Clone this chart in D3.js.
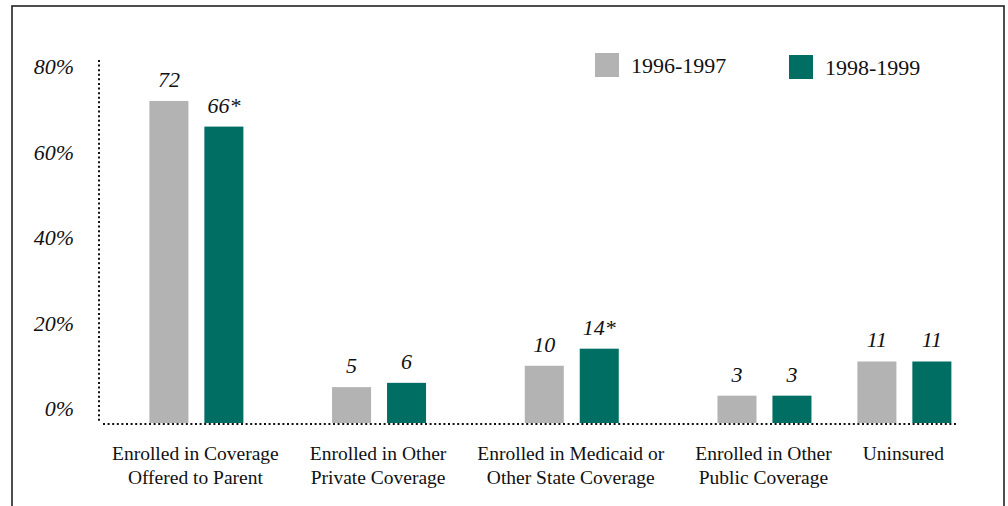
<!DOCTYPE html>
<html>
<head>
<meta charset="utf-8">
<script src="https://cdn.jsdelivr.net/npm/d3@7"></script>
<style>
  body { margin: 0; background: #fff; }
  svg { display: block; font-family: "Liberation Serif", "DejaVu Serif", serif; }
  svg text { font-family: "Liberation Serif", "DejaVu Serif", serif; }
</style>
</head>
<body>
<div id="chart"></div>
<script>
// data
const categories = [
  ["Enrolled in Coverage", "Offered to Parent"],
  ["Enrolled in Other", "Private Coverage"],
  ["Enrolled in Medicaid or", "Other State Coverage"],
  ["Enrolled in Other", "Public Coverage"],
  ["Uninsured"]
];
const series = ["1996-1997", "1998-1999"];
const values9697 = [72, 5, 10, 3, 11];
const values9899 = [66, 6, 14, 3, 11];
const labels9697 = ["72", "5", "10", "3", "11"];
const labels9899 = ["66*", "6", "14*", "3", "11"];
const yTicks = [0, 20, 40, 60, 80];
const colors = ["#b3b3b3", "#006e62"];

const width = 1008, height = 506;

const svg = d3.select("#chart")
  .append("svg")
  .attr("width", width)
  .attr("height", height);

// frame (bottom edge runs off the page)
svg.append("rect")
  .attr("x", 12).attr("y", 6)
  .attr("width", 992).attr("height", 530)
  .attr("fill", "none")
  .attr("stroke", "#222")
  .attr("stroke-width", 1.6);

// y scale: zero sits a little above the dotted floor
const y = d3.scaleLinear()
  .domain([-3.4, 80])
  .range([423, 66.8]);

// category labels first, so the groups can be laid out under them
const labelLeft = 112, labelRight = 944;
const catG = svg.append("g");
const catLabels = catG.selectAll("text")
  .data(categories)
  .join("text")
  .attr("text-anchor", "middle")
  .attr("font-size", 19.5)
  .attr("fill", "#111");
catLabels.selectAll("tspan")
  .data(d => d)
  .join("tspan")
  .attr("x", 0)
  .attr("dy", (d, i) => i === 0 ? 0 : 24)
  .text(d => d);

const widths = [];
catLabels.each(function () {
  widths.push(d3.max(d3.select(this).selectAll("tspan").nodes(), n => n.getComputedTextLength()));
});
const gap = (labelRight - labelLeft - d3.sum(widths)) / (categories.length - 1);
const centers = [];
let cursor = labelLeft;
widths.forEach(w => { centers.push(cursor + w / 2); cursor += w + gap; });

catLabels.attr("transform", (d, i) => `translate(${centers[i]},460)`);

// inner band for the two periods inside each group
const x1 = d3.scaleBand()
  .domain(series)
  .range([-47, 47])
  .paddingInner(0.29);

const rows = categories.map((c, i) => ({
  center: centers[i],
  bars: [
    { s: series[0], v: values9697[i], label: labels9697[i] },
    { s: series[1], v: values9899[i], label: labels9899[i] }
  ]
}));

const groups = svg.append("g").selectAll("g")
  .data(rows)
  .join("g")
  .attr("transform", d => `translate(${d.center + 1},0)`);

groups.selectAll("rect")
  .data(d => d.bars)
  .join("rect")
  .attr("x", d => x1(d.s))
  .attr("width", x1.bandwidth())
  .attr("y", d => y(d.v))
  .attr("height", d => y(-3.4) - y(d.v))
  .attr("fill", (d, i) => colors[i]);

groups.selectAll("text")
  .data(d => d.bars)
  .join("text")
  .attr("x", d => x1(d.s) + x1.bandwidth() / 2)
  .attr("y", d => y(d.v) - 14)
  .attr("text-anchor", "middle")
  .attr("font-size", 22)
  .attr("font-style", "italic")
  .attr("fill", "#111")
  .text(d => d.label);

// y axis: dotted spine and italic percentage labels
const yAxis = svg.append("g")
  .attr("transform", "translate(99,0)")
  .call(d3.axisLeft(y)
    .tickValues(yTicks)
    .tickSize(0)
    .tickPadding(25)
    .tickFormat(d => d + "%"));
yAxis.attr("font-family", null);
yAxis.select(".domain")
  .attr("d", `M0,${y(81.6)}V${y(-3.4)}`)
  .attr("stroke", "#111")
  .attr("stroke-width", 2)
  .attr("stroke-dasharray", "2 2.6");
yAxis.selectAll(".tick text")
  .style("font-family", "'Liberation Serif', serif")
  .attr("font-size", 22)
  .attr("font-style", "italic")
  .attr("fill", "#111");

// dotted floor
svg.append("line")
  .attr("x1", 103).attr("x2", 958)
  .attr("y1", y(-3.4) + 1).attr("y2", y(-3.4) + 1)
  .attr("stroke", "#111")
  .attr("stroke-width", 2)
  .attr("stroke-dasharray", "2 2.6");

// legend
const legend = svg.append("g")
  .attr("transform", "translate(595,53)")
  .selectAll("g")
  .data(series)
  .join("g")
  .attr("transform", (d, i) => `translate(${i * 194},${i * 2})`);
legend.append("rect")
  .attr("width", 24).attr("height", 24)
  .attr("fill", (d, i) => colors[i]);
legend.append("text")
  .attr("x", 36).attr("y", 20)
  .attr("font-size", 22)
  .attr("fill", "#111")
  .text(d => d);
</script>
</body>
</html>
